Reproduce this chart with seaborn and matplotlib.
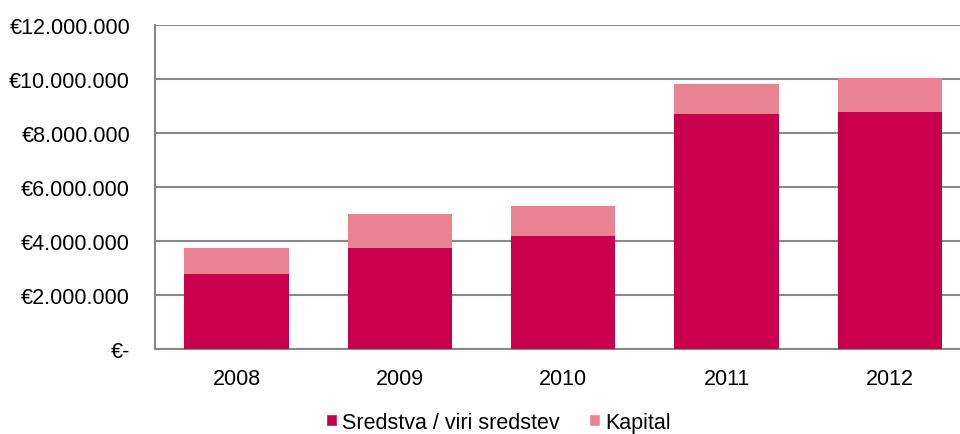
import matplotlib
matplotlib.use("Agg")
import matplotlib.pyplot as plt
import matplotlib.ticker as mticker
from matplotlib.patches import Patch
import seaborn as sns
import pandas as pd

# values (EUR)
years = ["2008", "2009", "2010", "2011", "2012"]
sredstva = [2780000, 3740000, 4190000, 8700000, 8780000]
kapital = [960000, 1260000, 1110000, 1110000, 1260000]
y_ticks = [0, 2000000, 4000000, 6000000, 8000000, 10000000, 12000000]

dark = "#C8004B"
light = "#E98394"
grey = "#888888"

sns.set_theme(style="white")
plt.rcParams["font.family"] = ["Liberation Sans", "DejaVu Sans"]

df = pd.DataFrame({"year": years, "sredstva": sredstva, "kapital": kapital})
df["total"] = df["sredstva"] + df["kapital"]

fig = plt.figure(figsize=(9.6, 4.35), dpi=100)
ax = fig.add_axes([0.1615, 0.1954, 0.8385, 0.7448])

# stacked: draw the full height in light pink, then the lower part in dark
sns.barplot(data=df, x="year", y="total", color=light, width=0.64,
            saturation=1, linewidth=0, ax=ax, zorder=3)
sns.barplot(data=df, x="year", y="sredstva", color=dark, width=0.64,
            saturation=1, linewidth=0, ax=ax, zorder=4)

ax.set_ylim(0, 12000000)
ax.set_xlim(-0.5, 4.43)
ax.set_yticks(y_ticks)


def euro(v, pos):
    if v == 0:
        return "€-"
    return "€" + f"{int(v):,}".replace(",", ".")


ax.yaxis.set_major_formatter(mticker.FuncFormatter(euro))
ax.yaxis.grid(True, color=grey, linewidth=1.5, zorder=0)
ax.set_axisbelow(True)

for side in ["top", "right"]:
    ax.spines[side].set_visible(False)
for side in ["left", "bottom"]:
    ax.spines[side].set_color(grey)
    ax.spines[side].set_linewidth(1.5)

ax.tick_params(axis="y", length=0, pad=18, labelsize=15.5, colors="black")
ax.tick_params(axis="x", length=0, pad=14, labelsize=15.5, colors="black")
ax.set_xlabel("")
ax.set_ylabel("")

handles = [Patch(facecolor=dark, label="Sredstva / viri sredstev"),
           Patch(facecolor=light, label="Kapital")]
fig.legend(handles=handles, loc="center", bbox_to_anchor=(0.519, 0.027),
           ncol=2, frameon=False, fontsize=15.5, handlelength=0.5,
           handleheight=0.5, handletextpad=0.25, columnspacing=1.35,
           labelcolor="black")

fig.savefig("out.png", dpi=100)
